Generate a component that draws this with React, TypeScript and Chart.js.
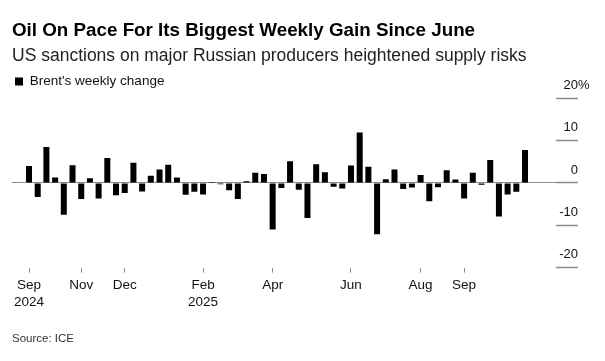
import React, { useEffect, useRef } from 'react';
import { Chart, registerables } from 'chart.js';

Chart.register(...registerables);

const FONT = "'Liberation Sans', Arial, Helvetica, sans-serif";

// Week-ending dates (Fridays), Sep 2024 – Oct 2025
const weekEnding = [
  '2024-09-20', '2024-09-27', '2024-10-04', '2024-10-11', '2024-10-18', '2024-10-25',
  '2024-11-01', '2024-11-08', '2024-11-15', '2024-11-22', '2024-11-29',
  '2024-12-06', '2024-12-13', '2024-12-20', '2024-12-27',
  '2025-01-03', '2025-01-10', '2025-01-17', '2025-01-24', '2025-01-31',
  '2025-02-07', '2025-02-14', '2025-02-21', '2025-02-28',
  '2025-03-07', '2025-03-14', '2025-03-21', '2025-03-28',
  '2025-04-04', '2025-04-11', '2025-04-18', '2025-04-25',
  '2025-05-02', '2025-05-09', '2025-05-16', '2025-05-23', '2025-05-30',
  '2025-06-06', '2025-06-13', '2025-06-20', '2025-06-27',
  '2025-07-04', '2025-07-11', '2025-07-18', '2025-07-25',
  '2025-08-01', '2025-08-08', '2025-08-15', '2025-08-22', '2025-08-29',
  '2025-09-05', '2025-09-12', '2025-09-19', '2025-09-26',
  '2025-10-03', '2025-10-10', '2025-10-17', '2025-10-24',
];

// Brent's weekly change, %
const weeklyChange = [
  4.0, -3.3, 8.5, 1.3, -7.5, 4.2,
  -3.8, 1.1, -3.7, 5.9, -2.9,
  -2.4, 4.8, -2.0, 1.7,
  3.2, 4.3, 1.3, -2.8, -2.1,
  -2.7, 0.2, -0.3, -1.7,
  -3.8, 0.4, 2.4, 2.1,
  -11.0, -1.2, 5.1, -1.6,
  -8.3, 4.4, 2.5, -0.9, -1.3,
  4.1, 11.9, 3.8, -12.1,
  0.9, 3.2, -1.4, -1.1,
  1.9, -4.3, -1.0, 3.0, 0.8,
  -3.7, 2.4, -0.4, 5.4,
  -7.9, -2.7, -2.1, 7.8,
];

// x-axis tick positions (week index) and their labels
const tickIndices = [0, 6, 11, 20, 28, 37, 45, 50];
const tickLabels: (string | string[])[] = [
  ['Sep', '2024'], 'Nov', 'Dec', ['Feb', '2025'], 'Apr', 'Jun', 'Aug', 'Sep',
];

// y-axis range and step
const yMin = -20;
const yMax = 20;
const yStep = 10;

export default function App() {
  const canvasRef = useRef<HTMLCanvasElement | null>(null);

  useEffect(() => {
    const canvas = canvasRef.current;
    if (!canvas) return;

    const chart = new Chart(canvas, {
      type: 'bar',
      data: {
        datasets: [
          {
            label: "Brent's weekly change",
            data: weeklyChange.map((v, i) => ({ x: i, y: v })),
            backgroundColor: '#000000',
            borderWidth: 0,
            barPercentage: 0.69,
            categoryPercentage: 1,
          },
        ],
      },
      options: {
        responsive: false,
        animation: false,
        events: [],
        layout: { padding: { left: 12, right: 11, top: 0, bottom: 0 } },
        plugins: {
          title: {
            display: true,
            text: 'Oil On Pace For Its Biggest Weekly Gain Since June',
            align: 'start',
            color: '#000000',
            font: { family: FONT, size: 18.8, weight: 'bold', lineHeight: 1.2 },
            padding: { top: 7.2, bottom: 0 },
          },
          subtitle: {
            display: true,
            text: 'US sanctions on major Russian producers heightened supply risks',
            align: 'start',
            color: '#222222',
            font: { family: FONT, size: 17.5, weight: 'normal', lineHeight: 1.2 },
            padding: { top: 3.6, bottom: 4.85 },
          },
          legend: {
            display: true,
            position: 'top',
            align: 'start',
            labels: {
              boxWidth: 8,
              boxHeight: 8,
              padding: 3,
              color: '#111111',
              font: { family: FONT, size: 13.5 },
            },
          },
          tooltip: { enabled: false },
        },
        scales: {
          x: {
            type: 'linear',
            offset: false,
            min: -1.954,
            max: 60.56,
            border: { display: false },
            grid: {
              display: true,
              offset: false,
              drawOnChartArea: false,
              drawTicks: true,
              tickLength: 5,
              color: '#8c8c8c',
              tickColor: '#8c8c8c',
              tickWidth: 1,
            },
            afterBuildTicks: (scale: any) => {
              scale.ticks = tickIndices.map((v) => ({ value: v }));
            },
            ticks: {
              autoSkip: false,
              maxRotation: 0,
              minRotation: 0,
              padding: 3.8,
              color: '#111111',
              font: { family: FONT, size: 13.5, lineHeight: 1.3 },
              callback: (value: any) => {
                const k = tickIndices.indexOf(Number(value));
                return k >= 0 ? tickLabels[k] : '';
              },
            },
            title: {
              display: true,
              text: 'Source: ICE',
              align: 'start',
              color: '#333333',
              font: { family: FONT, size: 11.5, lineHeight: 1.2 },
              padding: { top: 16.5, bottom: 15.4 },
            },
          },
          y: {
            type: 'linear',
            position: 'right',
            min: yMin,
            max: yMax,
            border: { display: false },
            grid: {
              display: true,
              drawOnChartArea: true,
              drawTicks: true,
              tickLength: 22,
              color: (ctx: any) => (ctx.tick && ctx.tick.value === 0 ? '#8c8c8c' : 'rgba(0,0,0,0)'),
              tickColor: '#8c8c8c',
              lineWidth: 1,
              tickWidth: 1.5,
            },
            ticks: {
              stepSize: yStep,
              crossAlign: 'far',
              padding: 0,
              labelOffset: -13,
              color: '#111111',
              font: { family: FONT, size: 13 },
              callback: (value: any) => String(value),
            },
            afterFit: (scale: any) => {
              scale.width = 22;
              scale.paddingTop = 98.3;
              scale.paddingBottom = 0;
            },
          },
          yPct: {
            type: 'linear',
            position: 'right',
            min: yMin,
            max: yMax,
            border: { display: false },
            grid: { display: false, drawTicks: false, drawOnChartArea: false },
            ticks: {
              stepSize: yStep,
              crossAlign: 'near',
              padding: 0,
              labelOffset: -13,
              color: '#111111',
              font: { family: FONT, size: 13 },
              callback: (value: any) => (Number(value) === yMax ? '%' : ''),
            },
            afterFit: (scale: any) => {
              scale.width = 16;
              scale.paddingTop = 0;
              scale.paddingBottom = 0;
            },
          },
        },
      } as any,
    });

    return () => {
      chart.destroy();
    };
  }, []);

  return (
    <div style={{ position: 'absolute', left: 0, top: 0, width: 605, height: 361, background: '#ffffff' }}>
      <canvas
        ref={canvasRef}
        width={605}
        height={361}
        style={{ display: 'block', width: 605, height: 361 }}
        aria-label={`Brent weekly change, ${weekEnding[0]} to ${weekEnding[weekEnding.length - 1]}`}
      />
    </div>
  );
}
